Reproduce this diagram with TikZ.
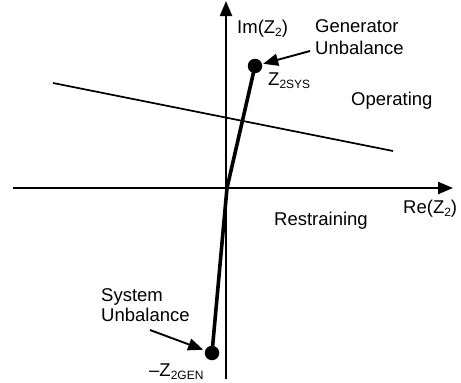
\documentclass[tikz,border=0pt]{standalone}
\usepackage{fontspec}
\setmainfont{Liberation Sans}
\usetikzlibrary{arrows.meta}

% small lowered subscript used in the impedance labels
\newcommand\lowsub[1]{\raisebox{-3.2pt}{\fontsize{12}{12}\selectfont #1}}

\tikzset{
  txt/.style={inner sep=0pt, font=\fontsize{18.5}{22}\selectfont},
  axis/.style={line width=2.2pt, -{Triangle[length=15pt,width=12pt]}},
  pointer/.style={line width=1.9pt, -{Triangle[length=15pt,width=12pt]}},
  dot/.style={circle, fill=black, inner sep=0pt, minimum size=14.5pt},
  locus/.style={line width=3.6pt, line cap=round, line join=round},
  boundary/.style={line width=1.7pt},
}

\begin{document}
\begin{tikzpicture}[x=1pt, y=-1pt]
  \useasboundingbox (0,0) rectangle (461,383);

  % axes
  \coordinate (xl) at (13,188);
  \coordinate (xr) at (453,188);
  \coordinate (yb) at (226,379);
  \coordinate (yt) at (226,1);
  \coordinate (O) at (227,188);
  \draw[axis] (xl) -- (xr);
  \draw[axis] (yb) -- (yt);

  % characteristic boundary line
  \coordinate (bl) at (53,83);
  \coordinate (br) at (393,151);
  \draw[boundary] (bl) -- (br);

  % impedance points and locus through the origin
  \node[dot] (zsys) at (255,66) {};
  \node[dot] (zgen) at (212,353) {};
  \draw[locus] (zgen.center) -- (O) -- (zsys.center);

  % axis labels
  \node[txt, anchor=base west] (im) at (237,33) {Im(Z\lowsub{2})};
  \node[txt, anchor=base west] (re) at (403,213) {Re(Z\lowsub{2})};

  % region labels
  \node[txt, anchor=base west] (op) at (351,105) {Operating};
  \node[txt, anchor=base west] (rs) at (274,225) {Restraining};

  % point labels
  \node[txt, anchor=base west] (lsys) at (268,85) {Z\lowsub{2SYS}};
  \node[txt, anchor=base west] (lgen) at (149,376) {–Z\lowsub{2GEN}};

  % unbalance annotations with pointers
  \node[txt, anchor=north west, align=left] (gen) at (315,19.5) {Generator\\Unbalance};
  \node[txt, anchor=north west, align=left, font=\fontsize{18.5}{20.5}\selectfont] (sys) at (101,288) {System\\Unbalance};
  \coordinate (genTail) at (310,51);
  \coordinate (sysTail) at (150,330);
  \draw[pointer, shorten >=1pt] (genTail) -- (zsys);
  \draw[pointer, shorten >=2pt] (sysTail) -- (zgen);
\end{tikzpicture}
\end{document}
